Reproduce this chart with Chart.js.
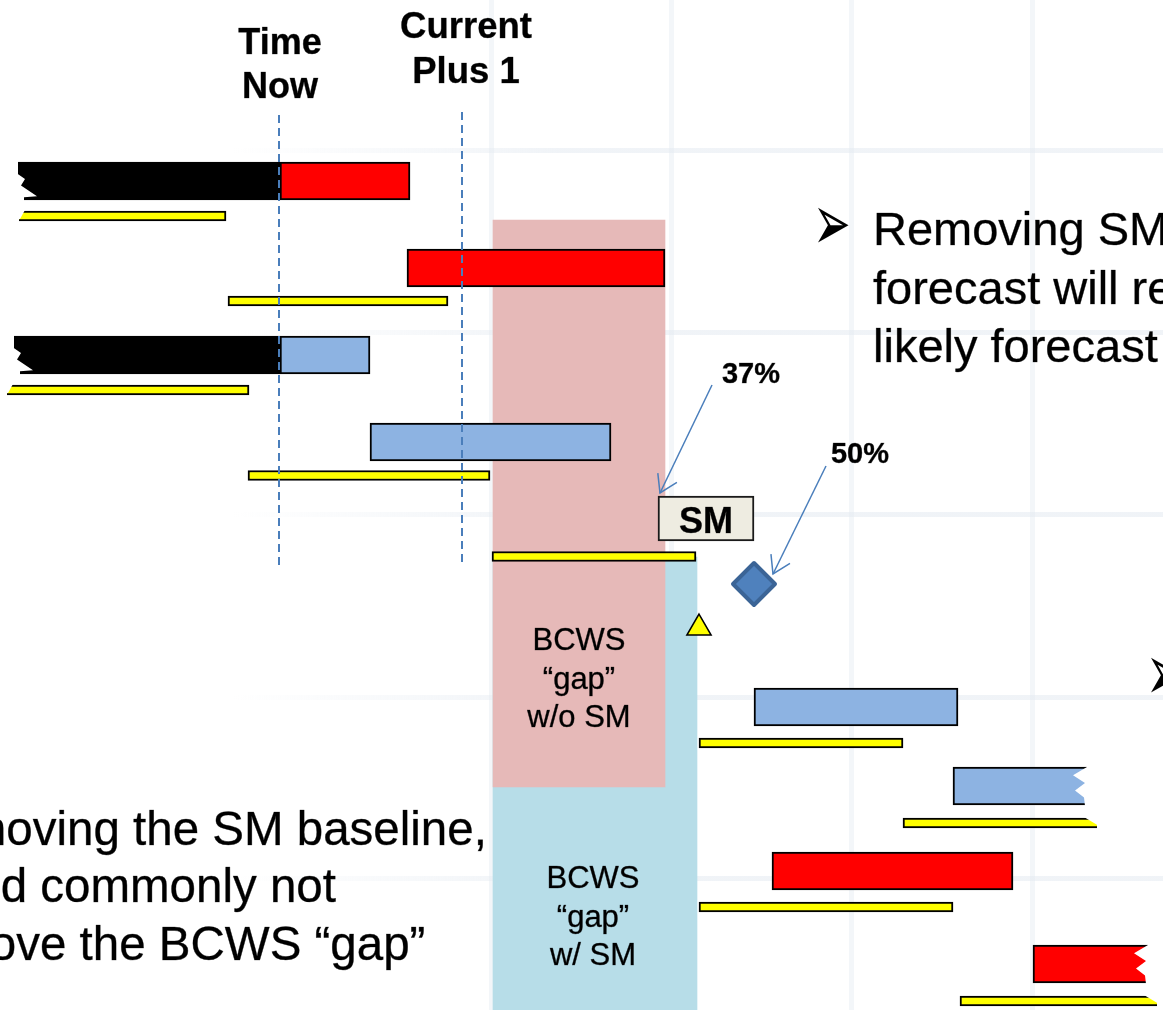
<!DOCTYPE html>
<html>
<head>
<meta charset="utf-8">
<style>
  html, body { margin: 0; padding: 0; background: #ffffff; overflow: hidden; }
  canvas { display: block; }
</style>
<script src="https://cdn.jsdelivr.net/npm/chart.js@4.4.1/dist/chart.umd.min.js"></script>
</head>
<body>
<canvas id="c" width="1163" height="1010"></canvas>
<script>
// ---------- data (time units across, schedule rows down) ----------
const W = 1163, H = 1010;
// each task: [start, finish, row]
const completedWork   = [[18, 280, 181], [14, 280, 355]];
const lateForecast    = [[280, 410, 181], [407, 665, 268], [772, 1013, 871], [1033, 1148, 964]];
const onTimeForecast  = [[280, 370, 355], [370, 611, 442], [754, 958, 707], [953, 1087, 786]];
const baselinePlan    = [[19, 226, 216], [228, 448, 301], [7, 249, 390], [248, 490, 475.5], [492, 696, 556.5],
                         [699, 903, 743], [903, 1097, 823], [699, 953, 907], [960, 1157, 1001]];
const smForecast37    = [[658, 754, 518.5]];
const smLikely50      = [{ x: 754, y: 584 }];
const smBaselineDate  = [{ x: 699, y: 628 }];
// BCWS gap regions: [start, finish, top row, bottom row]
const gapWithoutSM    = [493, 665, 220, 787];
const gapWithSM       = [493, 697, 557, 1010];
// status dates and their vertical extent
const timeNow         = 279;
const currentPlus1    = 462;
const timeNowSpan     = [115, 570];
const currentSpan     = [112, 567];
// callouts: [from, to]
const callout37       = [[712, 385], [660, 493]];
const callout50       = [[826, 466], [773, 574]];
// faint background grid of the slide
const gridX = [491, 671, 851, 1032];
const gridY = [150, 332, 514, 697, 878];

// ---------- helpers ----------
const toBars = rows => rows.map(r => ({ x: [r[0], r[1]], y: r[2] }));
const toPts = rows => rows.map(r => ({ x: r[0], y: r[1] }));
function arrowHead(from, to, len, deg) {
  const a = Math.atan2(from[1] - to[1], from[0] - to[0]);
  const d = deg * Math.PI / 180;
  return [
    { x: to[0] + len * Math.cos(a + d), y: to[1] + len * Math.sin(a + d) },
    { x: to[0], y: to[1] },
    { x: to[0] + len * Math.cos(a - d), y: to[1] + len * Math.sin(a - d) }
  ];
}
function barSet(label, rows, color, thickness, order, torn, extra) {
  return Object.assign({
    type: 'bar', label, indexAxis: 'y', stack: 'one', order,
    data: toBars(rows),
    backgroundColor: color, borderColor: '#000000', borderWidth: 2,
    borderSkipped: ctx => (torn && torn[ctx.dataIndex]) || false,
    barThickness: thickness, tornEnds: torn
  }, extra || {});
}
function region(label, r, color, order) {
  return {
    type: 'bar', label, indexAxis: 'y', stack: 'one', order,
    data: [{ x: [r[0], r[1]], y: (r[2] + r[3]) / 2 }],
    backgroundColor: color, borderWidth: 0, barThickness: r[3] - r[2]
  };
}
function lineSet(label, pts, color, width, dash, order) {
  return {
    type: 'line', label, data: pts, borderColor: color, borderWidth: width,
    borderDash: dash || [], pointRadius: 0, fill: false, tension: 0, order
  };
}

// ---------- annotation texts ----------
const F = '"Liberation Sans", Arial, sans-serif';
const notes = [
  { lines: ['Time', 'Now'], x: 280, y: 54, lh: 44, font: 'bold 36px ' + F, align: 'center' },
  { lines: ['Current', 'Plus 1'], x: 466, y: 38, lh: 45, font: 'bold 36.5px ' + F, align: 'center' },
  { lines: ['37%'], x: 751, y: 383, lh: 0, font: 'bold 29px ' + F, align: 'center' },
  { lines: ['50%'], x: 860, y: 463, lh: 0, font: 'bold 29px ' + F, align: 'center' },
  { lines: ['SM'], x: 706, y: 533, lh: 0, font: 'bold 36px ' + F, align: 'center' },
  { lines: ['BCWS', '\u201Cgap\u201D', 'w/o SM'], x: 579, y: 650, lh: 38.5, font: '31px ' + F, align: 'center' },
  { lines: ['BCWS', '\u201Cgap\u201D', 'w/ SM'], x: 593, y: 888, lh: 38.5, font: '31px ' + F, align: 'center' },
  { lines: ['Removing SM from the', 'forecast will result in a', 'likely forecast date'], x: 873, y: 245, lh: 58.5, font: '47px ' + F, align: 'left' },
  { lines: ['Removing the SM baseline,'], x: -94, y: 845, lh: 0, font: '47.5px ' + F, align: 'left' },
  { lines: ['would commonly not'], x: -97, y: 902, lh: 0, font: '47.5px ' + F, align: 'left' },
  { lines: ['remove the BCWS \u201Cgap\u201D'], x: -92, y: 960, lh: 0, font: '47.5px ' + F, align: 'left' }
];
// arrowhead bullets (glyph stretched to the slide's bullet proportions)
const bullets = [
  { x: 813, y: 229 },
  { x: 1146, y: 679 }
];

const notesPlugin = {
  id: 'notes',
  afterDatasetsDraw(chart) {
    const { ctx, scales: { x, y } } = chart;
    ctx.save();
    for (const n of notes) {
      ctx.font = n.font;
      ctx.fillStyle = '#000000';
      ctx.strokeStyle = 'rgba(0,0,0,0.55)';
      ctx.lineWidth = 0.6;
      ctx.lineJoin = 'round';
      ctx.textAlign = n.align;
      ctx.textBaseline = 'alphabetic';
      n.lines.forEach((t, k) => {
        const px = x.getPixelForValue(n.x), py = y.getPixelForValue(n.y + k * n.lh);
        ctx.fillText(t, px, py);
        ctx.strokeText(t, px, py);
      });
    }
    for (const b of bullets) {
      ctx.save();
      ctx.translate(x.getPixelForValue(b.x), y.getPixelForValue(b.y));
      ctx.scale(1.25, 2.2);
      ctx.font = '36px "DejaVu Sans", sans-serif';
      ctx.textAlign = 'left';
      ctx.textBaseline = 'middle';
      ctx.fillStyle = '#000000';
      ctx.fillText('\u27A2', 0, 0);
      ctx.restore();
    }
    ctx.restore();
  }
};

// torn (continuing) ends of bars
const tornPlugin = {
  id: 'torn',
  beforeDatasetDraw(chart, args) {
    const ds = chart.data.datasets[args.index];
    if (ds.roundJoin) chart.ctx.lineJoin = 'round';
  },
  afterDatasetDraw(chart, args) {
    const ds = chart.data.datasets[args.index];
    chart.ctx.lineJoin = 'miter';
    if (!ds.tornEnds) return;
    const ctx = chart.ctx;
    ctx.save();
    ctx.fillStyle = '#ffffff';
    args.meta.data.forEach((el, i) => {
      const side = ds.tornEnds[i];
      if (!side) return;
      const p = el.getProps(['x', 'y', 'base', 'height'], true);
      const L = Math.min(p.x, p.base), R = Math.max(p.x, p.base);
      const h = p.height, top = p.y - h / 2, bot = p.y + h / 2;
      let pts;
      if (h > 20) {
        if (side === 'left') pts = [[L - 12, top - 1], [L, top - 1], [L, top], [L - 2, top + 0.28 * h], [L + 7, top + 0.45 * h],
          [L + 3, top + 0.62 * h], [L + 19, top + 0.9 * h], [L + 6, top + 0.93 * h], [L + 6, bot + 1], [L - 12, bot + 1]];
        else pts = [[R + 12, top - 1], [R, top - 1], [R, top], [R - 14, top + 0.22 * h], [R - 2, top + 0.42 * h],
          [R - 12, top + 0.62 * h], [R - 3, top + 0.8 * h], [R - 2, bot + 1], [R + 12, bot + 1]];
      } else {
        if (side === 'left') pts = [[L - 2, top - 1], [L + 6, top - 1], [L + 1, bot - 2], [L - 2, bot - 2]];
        else pts = [[R + 2, top - 1], [R - 13, top - 1], [R + 2, bot - 2]];
      }
      ctx.beginPath();
      pts.forEach((q, k) => k ? ctx.lineTo(q[0], q[1]) : ctx.moveTo(q[0], q[1]));
      ctx.closePath();
      ctx.fill();
    });
    ctx.restore();
  }
};

const hGridColor = (c) => {
  const g = c.chart.ctx.createLinearGradient(0, 0, W, 0);
  g.addColorStop(0, 'rgba(228,234,241,0)');
  g.addColorStop(0.2, 'rgba(228,234,241,0)');
  g.addColorStop(0.48, 'rgba(228,234,241,0.55)');
  g.addColorStop(1, 'rgba(228,234,241,0.55)');
  return g;
};

const datasets = [
  region('BCWS gap w/ SM', gapWithSM, '#b7dde8', 50),
  region('BCWS gap w/o SM', gapWithoutSM, '#e6b9b8', 45),
  barSet('Baseline', baselinePlan, '#ffff00', 10, 30,
    ['left', '', 'left', '', '', '', 'right', '', 'right']),
  barSet('Completed', completedWork, '#000000', 38, 25, ['left', 'left']),
  barSet('Forecast (late)', lateForecast, '#ff0000', 38, 24, ['', '', '', 'right']),
  barSet('Forecast (on time)', onTimeForecast, '#8db3e2', 38, 24, ['', '', '', 'right']),
  barSet('SM 37%', smForecast37, '#eeece1', 45, 24, null, { borderColor: '#1a1a1a' }),
  {
    type: 'line', label: 'SM 50%', data: smLikely50, showLine: false, order: 12, roundJoin: true,
    pointStyle: 'rectRot', pointRadius: 21, pointBackgroundColor: '#4f81bd',
    pointBorderColor: '#3b6496', pointBorderWidth: 4
  },
  {
    type: 'line', label: 'SM baseline', data: smBaselineDate, showLine: false, order: 12,
    pointStyle: 'triangle', pointRadius: 14, pointBackgroundColor: '#ffff00',
    pointBorderColor: '#000000', pointBorderWidth: 1.5
  },
  lineSet('37% callout', toPts(callout37), '#4a7ebb', 1.5, null, 8),
  lineSet('37% head', arrowHead(callout37[0], callout37[1], 20, 32), '#4a7ebb', 1.5, null, 8),
  lineSet('50% callout', toPts(callout50), '#4a7ebb', 1.5, null, 8),
  lineSet('50% head', arrowHead(callout50[0], callout50[1], 20, 32), '#4a7ebb', 1.5, null, 8),
  lineSet('Time Now', [{ x: timeNow, y: timeNowSpan[0] }, { x: timeNow, y: timeNowSpan[1] }], '#4a7ebb', 2, [8, 5], 2),
  lineSet('Current Plus 1', [{ x: currentPlus1, y: currentSpan[0] }, { x: currentPlus1, y: currentSpan[1] }], '#4a7ebb', 2, [8, 5], 2)
];

const axisCommon = {
  type: 'linear', offset: false, grace: 0, beginAtZero: false, bounds: 'data',
  ticks: { display: false }, border: { display: false }
};

new Chart(document.getElementById('c'), {
  type: 'bar',
  data: { datasets },
  plugins: [tornPlugin, notesPlugin],
  options: {
    responsive: false,
    animation: false,
    events: [],
    layout: { padding: 0, autoPadding: false },
    plugins: { legend: { display: false }, tooltip: { enabled: false } },
    scales: {
      x: Object.assign({}, axisCommon, {
        min: 0, max: W, stacked: false,
        grid: { offset: false, drawTicks: false, lineWidth: 5, color: 'rgba(228,234,241,0.45)' },
        afterBuildTicks: s => { s.ticks = gridX.map(v => ({ value: v })); }
      }),
      y: Object.assign({}, axisCommon, {
        min: 0, max: H, reverse: true,
        grid: { offset: false, drawTicks: false, lineWidth: 5, color: hGridColor },
        afterBuildTicks: s => { s.ticks = gridY.map(v => ({ value: v })); }
      })
    }
  }
});
</script>
</body>
</html>
